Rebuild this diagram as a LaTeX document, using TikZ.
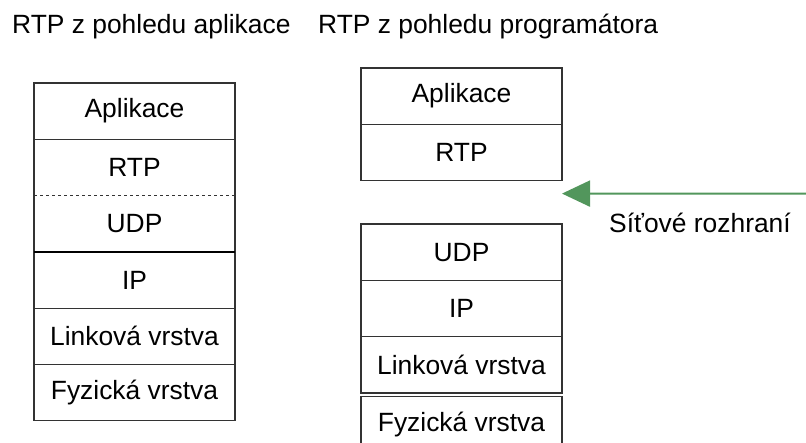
\documentclass[tikz,border=0pt]{standalone}
\usepackage{fontspec}
\setmainfont{Liberation Sans}
\usetikzlibrary{positioning,arrows.meta}
\definecolor{ifacegreen}{RGB}{82,150,92}
\tikzset{
layer/.style={
	  draw=black!80, line width=1.3pt, rectangle, inner sep=0pt, outer sep=0pt,
	    minimum width=201pt, minimum height=56.3pt, font=\fontsize{26.4}{30}\selectfont},
openlayer/.style={layer, draw=none},
heading/.style={anchor=base west, inner sep=0pt, font=\fontsize{26.4}{30}\selectfont}
}

\begin{document}
\begin{tikzpicture}[x=1pt, y=-1pt]
	\useasboundingbox (0,0) rectangle (806,443);
	\node[heading] (appview) at (12,34) {RTP z pohledu aplikace};
	\node[heading] (progview) at (318,34) {RTP z pohledu programátora};
	% zasobnik vlevo
	\node[layer] (appL) at (134.5,111.15) {Aplikace};
	\node[openlayer, below=0pt of appL] (rtpL) {RTP};
	\node[openlayer, below=0pt of rtpL] (udpL) {UDP};
	\draw[black!80, line width=1.3pt] (rtpL.north west) rectangle (udpL.south east);
	\draw[black!80, dashed] (rtpL.south west) -- (rtpL.south east);
	\node[layer, below=0pt of udpL] (ipL) {IP};
	\draw[black, line width=2.6pt] (udpL.south west) -- (udpL.south east);
	\node[layer, below=0pt of ipL] (linkL) {Linková vrstva};
	\node[layer, below=0pt of linkL] (physL) {Fyzická vrstva};
	% zasobnik vpravo
	\node[layer] (appR) at (461.5,96.15) {Aplikace};
	\node[layer, below=0pt of appR] (rtpR) {RTP};
	\node[layer] (udpR) at (461.5,252.15) {UDP};
	\node[layer, below=0pt of udpR] (ipR) {IP};
	\node[layer, below=0pt of ipR] (linkR) {Linková vrstva};
	\node[layer, below=3.5pt of linkR] (physR) {Fyzická vrstva};
	\coordinate (iface) at ([yshift=-13pt]rtpR.south east);
	\coordinate (ifacestart) at (806,193.6);
	\draw[ifacegreen, line width=2pt, -{Triangle[length=28pt, width=26pt]}] (ifacestart) -- (iface);
	\node[font=\fontsize{26.4}{30}\selectfont, inner sep=0pt] (ifacelabel) at (700,223) {Síťové rozhraní};
\end{tikzpicture}
\end{document}
